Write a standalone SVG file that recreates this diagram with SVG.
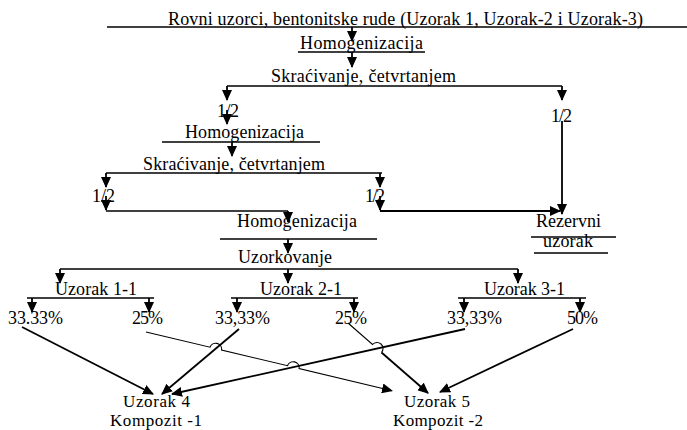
<svg xmlns="http://www.w3.org/2000/svg" width="687" height="430" viewBox="0 0 687 430">
<style>
text{font-family:"Liberation Serif","Times New Roman",serif;font-size:18px;fill:#000}
.sm{font-size:17px}
.ln{stroke:#000;stroke-width:1.6;fill:none}
.ar{stroke:#000;stroke-width:1.8;fill:none;marker-end:url(#ah)}
.thin{stroke:#000;stroke-width:1.1;fill:none}
</style>
<defs>
<marker id="ah" markerUnits="userSpaceOnUse" markerWidth="11" markerHeight="10" viewBox="0 0 11 10" refX="10" refY="5" orient="auto">
<path d="M0,0 L11,5 L0,10 z" fill="#000"/>
</marker>
</defs>
<rect width="687" height="430" fill="#fff"/>

<g id="n-title">
<text x="168" y="25" textLength="475">Rovni uzorci, bentonitske rude (Uzorak 1, Uzorak-2 i Uzorak-3)</text>
<line class="ln" x1="107" y1="27" x2="687" y2="27"/>
</g>
<g id="n-homo1">
<text x="300" y="49" textLength="123">Homogenizacija</text>
<line class="ln" x1="298" y1="52" x2="425" y2="52"/>
</g>
<g id="n-skr1">
<text x="271" y="82" textLength="185">Skraćivanje, četvrtanjem</text>
</g>
<g id="n-half1"><text x="217" y="117" textLength="22">1/2</text></g>
<g id="n-half2"><text x="551" y="122" textLength="21">1/2</text></g>
<g id="n-homo2">
<text x="185" y="138" textLength="119">Homogenizacija</text>
<line class="ln" x1="162" y1="142" x2="320" y2="142"/>
</g>
<g id="n-skr2">
<text x="143" y="170" textLength="182">Skraćivanje, četvrtanjem</text>
</g>
<g id="n-half3"><text x="92" y="202" textLength="23">1/2</text></g>
<g id="n-half4"><text x="365" y="202" textLength="20">1/2</text></g>
<g id="n-homo3">
<text x="237" y="227" textLength="120">Homogenizacija</text>
<line class="ln" x1="220" y1="239" x2="377" y2="239"/>
</g>
<g id="n-rez">
<text x="536" y="227" textLength="65">Rezervni</text>
<line class="ln" x1="531" y1="237" x2="616" y2="237"/>
<text x="543" y="247" textLength="50">uzorak</text>
<line class="ln" x1="534" y1="253" x2="608" y2="253"/>
</g>
<g id="n-uzork">
<text x="238" y="263" textLength="94">Uzorkovanje</text>
</g>
<g id="n-u11">
<text x="55" y="295" textLength="82">Uzorak 1-1</text>
<line class="ln" x1="27" y1="298" x2="154" y2="298"/>
</g>
<g id="n-u21">
<text x="260" y="295" textLength="82">Uzorak 2-1</text>
<line class="ln" x1="231" y1="298" x2="358" y2="298"/>
</g>
<g id="n-u31">
<text x="484" y="295" textLength="81">Uzorak 3-1</text>
<line class="ln" x1="458" y1="298" x2="586" y2="298"/>
</g>
<g id="n-p1"><text x="8" y="324" textLength="55">33.33%</text></g>
<g id="n-p2"><text x="132" y="324" textLength="31">25%</text></g>
<g id="n-p3"><text x="215" y="324" textLength="55">33,33%</text></g>
<g id="n-p4"><text x="335" y="324" textLength="32">25%</text></g>
<g id="n-p5"><text x="447" y="324" textLength="55">33,33%</text></g>
<g id="n-p6"><text x="567" y="324" textLength="31">50%</text></g>
<g id="n-u4">
<text class="sm" x="123" y="407" textLength="67">Uzorak 4</text>
<text class="sm" x="110" y="426" textLength="92">Kompozit -1</text>
</g>
<g id="n-u5">
<text class="sm" x="404" y="407" textLength="66">Uzorak 5</text>
<text class="sm" x="393" y="426" textLength="90">Kompozit -2</text>
</g>

<g id="connectors">
<line class="ar" x1="352" y1="27" x2="352" y2="41"/>
<line class="ar" x1="352" y1="52" x2="352" y2="67"/>
<line class="ln" x1="227" y1="86" x2="562" y2="86"/>
<line class="ar" x1="227" y1="86" x2="227" y2="100"/>
<line class="ar" x1="562" y1="86" x2="562" y2="100"/>
<line class="ar" x1="227" y1="110" x2="227" y2="124"/>
<line class="ar" x1="232" y1="142" x2="232" y2="156"/>
<line class="ln" x1="106" y1="173" x2="382" y2="173"/>
<line class="ar" x1="106" y1="173" x2="106" y2="187"/>
<line class="ar" x1="380" y1="173" x2="380" y2="187"/>
<line class="ar" x1="106" y1="196" x2="106" y2="210"/>
<line class="ln" x1="106" y1="211" x2="288" y2="211"/>
<line class="ar" x1="288" y1="211" x2="288" y2="222"/>
<line class="ar" x1="380" y1="196" x2="380" y2="210"/>
<line class="ar" x1="380" y1="211" x2="560" y2="211"/>
<line class="ar" x1="562" y1="121" x2="562" y2="214"/>
<line class="ar" x1="288" y1="239" x2="288" y2="253"/>
<line class="ln" x1="60" y1="269" x2="518" y2="269"/>
<line class="ar" x1="60" y1="269" x2="60" y2="283"/>
<line class="ar" x1="288" y1="269" x2="288" y2="283"/>
<line class="ar" x1="518" y1="269" x2="518" y2="283"/>
<line class="ar" x1="32" y1="298" x2="32" y2="312"/>
<line class="ar" x1="149" y1="298" x2="149" y2="312"/>
<line class="ar" x1="237" y1="298" x2="237" y2="312"/>
<line class="ar" x1="354" y1="298" x2="354" y2="312"/>
<line class="ar" x1="464" y1="298" x2="464" y2="312"/>
<line class="ar" x1="580" y1="298" x2="580" y2="312"/>

<line class="ar" x1="22" y1="327" x2="153" y2="394"/>
<line class="ar" x1="239" y1="329" x2="162" y2="394"/>
<line class="ar" x1="465" y1="329" x2="172" y2="394"/>
<path class="thin" d="M146,332 L210,347.2 A6,6 0 0 1 221.6,350 L287.5,365.7 A6,6 0 0 1 299.1,368.5 L392,390.7" marker-end="url(#ah)"/>
<path class="thin" d="M348,323 L372.5,344.5 A6,6 0 0 1 381.5,352.5"/>
<line class="ar" x1="381.5" y1="352.5" x2="428" y2="393"/>
<line class="ar" x1="573" y1="329" x2="440" y2="392"/>
</g>
</svg>
